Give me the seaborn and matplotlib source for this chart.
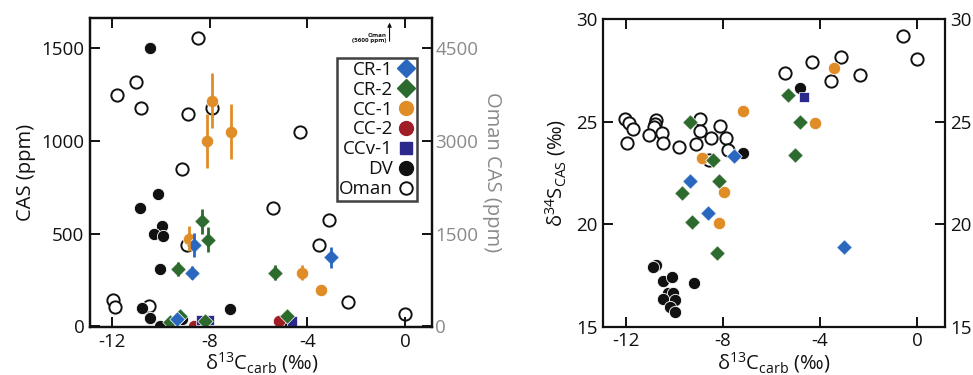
import matplotlib
matplotlib.use("Agg")
import matplotlib.pyplot as plt
from matplotlib.lines import Line2D
import seaborn as sns

# ---- 左图: CAS 浓度 vs d13C ----
cr1_c = [-8.63, -8.72, -3.02, -9.34]
cr1_cas = [439, 290, 373, 40]
cr1_err = [65, 36, 56, 0]

cr2_c = [-8.31, -8.08, -9.30, -5.31, -9.61, -9.20, -8.18, -4.83]
cr2_cas = [565, 466, 309, 290, 22, 54, 27, 54]
cr2_err = [65, 67, 40, 40, 0, 0, 0, 0]

cc1_c = [-7.90, -8.11, -7.11, -8.83, -4.21, -3.42]
cc1_cas = [1215, 998, 1048, 471, 290, 194]
cc1_err = [148, 147, 147, 67, 40, 0]

cc2_c = [-8.66, -5.17]
cc2_cas = [5, 31]

ccv1_c = [-8.37, -8.04, -4.62]
ccv1_cas = [32, 32, 27]

dv_c = [-10.43, -10.11, -10.87, -9.95, -10.27, -9.93, -10.02, -10.75, -10.43, -10.02, -9.13, -7.15, -4.76]
dv_cas = [1500, 713, 636, 538, 497, 489, 309, 99, 45, 5, 41, 94, 21]

oman_c = [-8.49, -11.0, -11.8, -10.8, -8.89, -7.90, -4.31, -9.13, -5.42, -3.12, -3.50, -8.93,
          -11.96, -11.86, -10.5, -2.33, 0.0, -4.76]
oman_cas = [4650, 3940, 3737, 3532, 3430, 3532, 3135, 2538, 1920, 1721, 1318, 1318,
            419, 306, 322, 387, 200, 70]

# ---- 右图: d34S_CAS vs d13C ----
cr1_c_s = [-7.52, -9.35, -8.62, -3.00]
cr1_s = [23.33, 22.11, 20.56, 18.86]

cr2_c_s = [-9.35, -8.39, -8.14, -9.67, -9.28, -8.25, -5.32, -4.81, -5.02]
cr2_s = [24.96, 23.14, 22.08, 21.51, 20.10, 18.61, 26.31, 24.96, 23.38]

cc1_c_s = [-3.44, -7.15, -4.19, -8.87, -7.93, -8.15]
cc1_s = [27.61, 25.53, 24.93, 23.25, 21.59, 20.05]

ccv1_c_s = [-4.64]
ccv1_s = [26.18]

dv_c_s = [-4.81, -7.15, -10.75, -10.89, -10.47, -10.08, -9.17, -10.27, -10.06, -10.47, -9.97, -10.17, -9.97]
dv_s = [26.63, 23.49, 18.01, 17.93, 17.25, 17.41, 17.12, 16.63, 16.66, 16.34, 16.30, 15.98, 15.70]

oman_c_s = [-0.58, 0.0, -3.12, -4.32, -2.34, -5.42, -3.53, -12.03, -11.85, -11.71, -11.96, -10.75,
            -10.78, -10.84, -11.04, -10.52, -10.48, -9.81, -8.92, -8.94, -9.11, -8.49, -8.11,
            -7.88, -7.79, -8.55]
oman_s = [29.2, 28.05, 28.15, 27.93, 27.28, 27.37, 27.0, 25.14, 24.93, 24.65, 23.95, 25.09,
          24.9, 24.73, 24.36, 24.44, 23.95, 23.74, 25.12, 24.52, 23.92, 24.22, 24.81,
          24.22, 23.62, 23.14]

# 颜色
c_cr1 = "#2a68c0"
c_cr2 = "#2d6a2d"
c_cc1 = "#e08d28"
c_cc2 = "#a01e26"
c_ccv1 = "#2b2a8c"
c_dv = "#111111"
grey = "#8a8a8a"
ink = "#111111"

sns.set_theme(style="white")
plt.rcParams["font.family"] = ["Open Sans", "DejaVu Sans"]
plt.rcParams["mathtext.default"] = "regular"
plt.rcParams["axes.linewidth"] = 1.6
plt.rcParams["axes.edgecolor"] = ink
plt.rcParams["text.color"] = ink
plt.rcParams["axes.labelcolor"] = ink
plt.rcParams["xtick.color"] = ink
plt.rcParams["ytick.color"] = ink

fig = plt.figure(figsize=(9.73, 3.75), dpi=100)
ax = fig.add_axes([0.0925, 0.128, 0.352, 0.824])
ax_r = ax.twinx()
# Oman 在底层
ax.set_zorder(ax_r.get_zorder() + 1)
ax.patch.set_visible(False)

s_circ, s_dia, s_sq = 78, 62, 55

# Oman（右轴）
sns.scatterplot(x=oman_c, y=oman_cas, ax=ax_r, marker="o", s=s_circ,
                facecolor="white", edgecolor=ink, linewidth=1.4, legend=False)

# 误差棒
for xs, ys, es, col in [(cr1_c, cr1_cas, cr1_err, c_cr1), (cr2_c, cr2_cas, cr2_err, c_cr2),
                        (cc1_c, cc1_cas, cc1_err, c_cc1)]:
    pts = [(x, y, e) for x, y, e in zip(xs, ys, es) if e > 0]
    ax.errorbar([p[0] for p in pts], [p[1] for p in pts], yerr=[p[2] for p in pts],
                fmt="none", ecolor=col, elinewidth=2.0, capsize=0)

sns.scatterplot(x=dv_c, y=dv_cas, ax=ax, marker="o", s=s_circ, color=c_dv, edgecolor="white", linewidth=0.6)
sns.scatterplot(x=cc1_c, y=cc1_cas, ax=ax, marker="o", s=s_circ, color=c_cc1, edgecolor="white", linewidth=0.5)
sns.scatterplot(x=cc2_c, y=cc2_cas, ax=ax, marker="o", s=s_circ, color=c_cc2, edgecolor="white", linewidth=0.5)
sns.scatterplot(x=ccv1_c, y=ccv1_cas, ax=ax, marker="s", s=s_sq, color=c_ccv1, edgecolor="white", linewidth=0.5)
sns.scatterplot(x=cr2_c, y=cr2_cas, ax=ax, marker="D", s=s_dia, color=c_cr2, edgecolor="white", linewidth=0.5)
sns.scatterplot(x=cr1_c, y=cr1_cas, ax=ax, marker="D", s=s_dia, color=c_cr1, edgecolor="white", linewidth=0.5)

ax.set_xlim(-12.9, 1.13)
ax.set_ylim(-3, 1660)
ax_r.set_ylim(-9, 4980)
ax.set_xticks([-12, -8, -4, 0])
ax.set_xticklabels(["-12", "-8", "-4", "0"])
ax.set_yticks([0, 500, 1000, 1500])
ax_r.set_yticks([0, 1500, 3000, 4500])
ax.set_xlabel("δ$^{13}$C$_{carb}$ (‰)", fontsize=14.5, labelpad=0)
ax.set_ylabel("CAS (ppm)", fontsize=14.5, labelpad=4)
ax_r.set_ylabel("Oman CAS (ppm)", fontsize=14.5, color=grey, rotation=270, labelpad=17)
ax.tick_params(axis="both", direction="in", length=7, width=1.4, labelsize=13.5,
               top=True, bottom=True, left=True, right=False, pad=4)
ax_r.tick_params(axis="y", direction="in", length=7, width=1.4, labelsize=13.5,
                 labelcolor=grey, pad=2)
for a in (ax, ax_r):
    for sp in a.spines.values():
        sp.set_linewidth(1.6)

# Oman 超出范围标注
ax.annotate("", xy=(-0.63, 1650), xytext=(-0.63, 1520),
            arrowprops=dict(arrowstyle="-|>", color=ink, lw=0.8, mutation_scale=6))
ax.text(-0.75, 1525, "Oman\n(5600 ppm)", fontsize=4.5, fontweight="bold",
        ha="right", va="bottom", multialignment="right", linespacing=0.9)

# 图例
handles = [
    Line2D([], [], marker="D", ls="", color=c_cr1, markersize=9),
    Line2D([], [], marker="D", ls="", color=c_cr2, markersize=9),
    Line2D([], [], marker="o", ls="", color=c_cc1, markersize=10),
    Line2D([], [], marker="o", ls="", color=c_cc2, markersize=10),
    Line2D([], [], marker="s", ls="", color=c_ccv1, markersize=8.5),
    Line2D([], [], marker="o", ls="", color=c_dv, markersize=10),
    Line2D([], [], marker="o", ls="", markerfacecolor="white", markeredgecolor=ink,
           markeredgewidth=1.4, markersize=9),
]
labels = ["CR-1", "CR-2", "CC-1", "CC-2", "CCv-1", "DV", "Oman"]
leg = ax.legend(handles, labels, loc="upper left", bbox_to_anchor=(336.5 / 973, 1 - 58 / 375),
                bbox_transform=fig.transFigure, borderaxespad=0, markerfirst=False,
                fontsize=13.5, handlelength=0.9, handletextpad=0.25, labelspacing=0.1,
                borderpad=0.15, frameon=True, fancybox=False)
leg.get_frame().set_edgecolor(ink)
leg.get_frame().set_linewidth(1.8)

# ---- 右图 ----
bx = fig.add_axes([0.620, 0.129, 0.351, 0.820])
sns.scatterplot(x=oman_c_s, y=oman_s, ax=bx, marker="o", s=s_circ,
                facecolor="white", edgecolor=ink, linewidth=1.4, legend=False)
sns.scatterplot(x=dv_c_s, y=dv_s, ax=bx, marker="o", s=s_circ, color=c_dv, edgecolor="white", linewidth=0.6)
sns.scatterplot(x=cc1_c_s, y=cc1_s, ax=bx, marker="o", s=s_circ, color=c_cc1, edgecolor="white", linewidth=0.5)
sns.scatterplot(x=ccv1_c_s, y=ccv1_s, ax=bx, marker="s", s=s_sq, color=c_ccv1, edgecolor="white", linewidth=0.5)
sns.scatterplot(x=cr2_c_s, y=cr2_s, ax=bx, marker="D", s=s_dia, color=c_cr2, edgecolor="white", linewidth=0.5)
sns.scatterplot(x=cr1_c_s, y=cr1_s, ax=bx, marker="D", s=s_dia, color=c_cr1, edgecolor="white", linewidth=0.5)

bx.set_xlim(-12.92, 1.14)
bx.set_ylim(15, 30)
bx.set_xticks([-12, -8, -4, 0])
bx.set_xticklabels(["-12", "-8", "-4", "0"])
bx.set_yticks([15, 20, 25, 30])
bx.set_xlabel("δ$^{13}$C$_{carb}$ (‰)", fontsize=14.5, labelpad=0)
bx.set_ylabel("δ$^{34}$S$_{CAS}$ (‰)", fontsize=14.5, labelpad=6)
bx.tick_params(axis="both", direction="in", length=7, width=1.4, labelsize=13.5,
               top=True, bottom=True, left=True, right=True, labelright=True, pad=4)
for sp in bx.spines.values():
    sp.set_linewidth(1.6)

fig.savefig("out.png", dpi=100)
plt.close(fig)
